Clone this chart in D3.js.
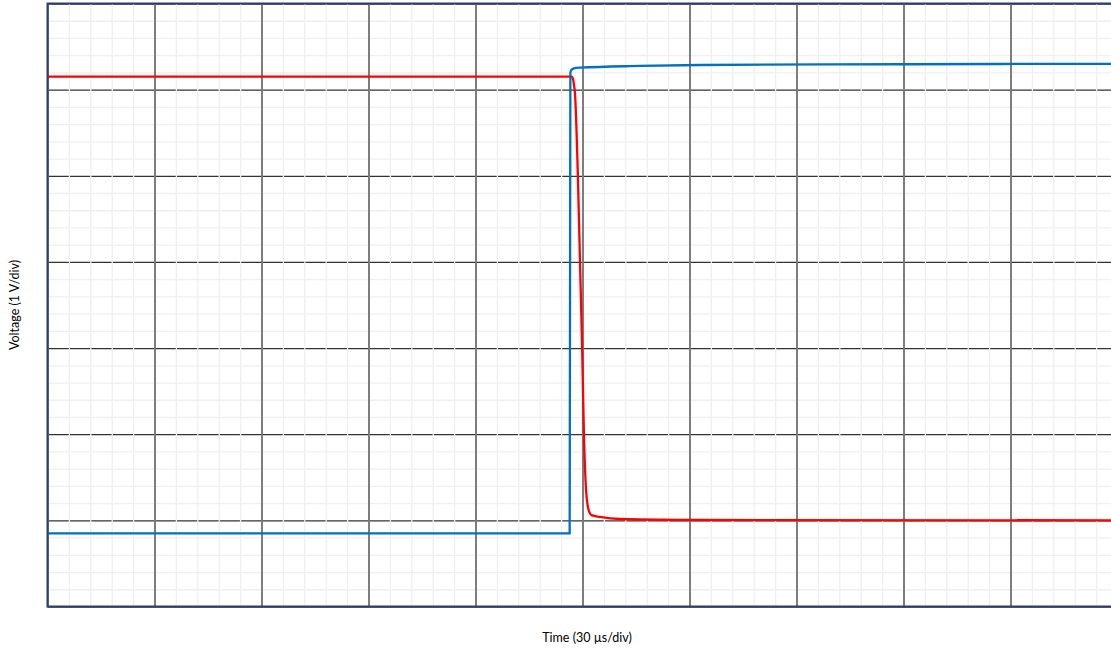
<!DOCTYPE html>
<html>
<head>
<meta charset="utf-8">
<script src="https://cdn.jsdelivr.net/npm/d3@7"></script>
<style>
  body { margin: 0; background: #fff; }
  svg { display: block; }
</style>
</head>
<body>
<div id="chart"></div>
<script>
// scope trace, time in µs, voltage in V
var blueT = [0, 146.4, 146.6, 147.0, 147.4, 149.3, 166.1, 182.9, 240, 300];
var blueV = [-0.15, -0.15, 5.2, 5.235, 5.245, 5.255, 5.275, 5.286, 5.295, 5.30];

var redT = [0, 146.9, 147.3, 147.6, 147.9, 148.7, 149.3, 149.9, 150.4, 151.0, 151.5, 152.0, 152.5, 154.9, 160.5, 182.9, 300];
var redV = [5.15, 5.15, 5.13, 5.06, 4.95, 4.0, 3.0, 2.0, 1.0, 0.35, 0.16, 0.09, 0.06, 0.04, 0.016, 0.004, 0.0];

var xMajor = [0, 30, 60, 90, 120, 150, 180, 210, 240, 270, 300];
var yMajor = [-1, 0, 1, 2, 3, 4, 5, 6];

var xLabel = "Time (30 µs/div)";
var yLabel = "Voltage (1 V/div)";

var margin = {top: 3.5, right: 0, bottom: 43.5, left: 47.5},
    width = 1070,
    height = 603;

var svg = d3.select("#chart")
    .append("svg")
    .attr("width", 1111)
    .attr("height", 650)
    .style("font-family", "Lato, 'Open Sans', sans-serif");

var g = svg.append("g")
    .attr("transform", "translate(" + margin.left + "," + margin.top + ")");

var x = d3.scaleLinear().domain([0, 300]).range([0, width]);
var y = d3.scaleLinear().domain([-1, 6]).range([height, 0]);

// minor ticks: 5 per division
var xMinor = d3.range(0, 300.01, 6);
var yMinor = d3.range(-1, 6.01, 0.2);

// major horizontal lines (dark)
g.append("g")
    .call(d3.axisLeft(y).tickValues(yMajor).tickSize(-width).tickFormat(""))
    .call(function(a) { a.select(".domain").remove(); })
    .selectAll("line")
    .attr("stroke", "#333")
    .attr("stroke-width", 1.3);

// minor grid (light)
g.append("g")
    .call(d3.axisLeft(y).tickValues(yMinor.filter(function(v) { return Math.abs(v - Math.round(v)) > 1e-6; })).tickSize(-width).tickFormat(""))
    .call(function(a) { a.select(".domain").remove(); })
    .selectAll("line")
    .attr("stroke", "#efefef")
    .attr("stroke-width", 1.3);

g.append("g")
    .attr("transform", "translate(0," + height + ")")
    .call(d3.axisBottom(x).tickValues(xMinor).tickSize(-height).tickFormat(""))
    .call(function(a) { a.select(".domain").remove(); })
    .selectAll("line")
    .attr("stroke", "#efefef")
    .attr("stroke-width", 1.3);

// major vertical lines (gray)
g.append("g")
    .attr("transform", "translate(0," + height + ")")
    .call(d3.axisBottom(x).tickValues(xMajor).tickSize(-height).tickFormat(""))
    .call(function(a) { a.select(".domain").remove(); })
    .selectAll("line")
    .attr("stroke", "#707070")
    .attr("stroke-width", 1.8);

// traces
var line = d3.line()
    .x(function(d) { return x(d[0]); })
    .y(function(d) { return y(d[1]); })
    .curve(d3.curveMonotoneX);

g.append("path")
    .datum(redT.map(function(t, i) { return [t, redV[i]]; }))
    .attr("fill", "none")
    .attr("stroke", "#ff0000")
    .attr("stroke-width", 2.3)
    .attr("d", line);

g.append("path")
    .datum(blueT.map(function(t, i) { return [t, blueV[i]]; }))
    .attr("fill", "none")
    .attr("stroke", "#0070c0")
    .attr("stroke-width", 2.3)
    .attr("d", line);

// plot border (left, top, bottom)
g.append("path")
    .attr("d", "M" + (width + 10) + ",0H0V" + height + "H" + (width + 10))
    .attr("fill", "none")
    .attr("stroke", "#2e3f6a")
    .attr("stroke-width", 2);

// axis titles
svg.append("text")
    .attr("x", 587)
    .attr("y", 642)
    .attr("text-anchor", "middle")
    .style("font-size", "12.5px")
    .attr("fill", "#000")
    .text(xLabel);

svg.append("text")
    .attr("transform", "translate(19," + (margin.top + height / 2) + ") rotate(-90)")
    .attr("text-anchor", "middle")
    .style("font-size", "12.5px")
    .attr("fill", "#000")
    .text(yLabel);
</script>
</body>
</html>
